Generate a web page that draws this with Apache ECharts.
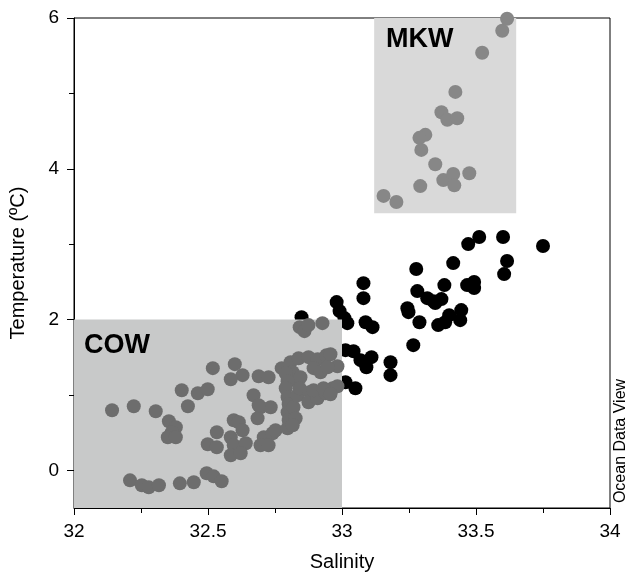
<!DOCTYPE html>
<html>
<head>
<meta charset="utf-8">
<script src="https://cdn.jsdelivr.net/npm/echarts@6/dist/echarts.min.js"></script>
<style>
  html, body { margin: 0; padding: 0; background: #ffffff; }
  #chart { width: 628px; height: 577px; }
</style>
</head>
<body>
<div id="chart"></div>
<script>
// Salinity (x) / potential temperature (y) pairs, per water mass.
// Stations outside the two water-mass boxes.
const otherStations = [
  [33.750, 2.975], [33.512, 3.094], [33.471, 3.001], [33.601, 3.094],
  [33.616, 2.776], [33.605, 2.603], [33.415, 2.749], [33.277, 2.670],
  [33.493, 2.497], [33.467, 2.457], [33.493, 2.417], [33.382, 2.457],
  [33.281, 2.377], [33.318, 2.284], [33.341, 2.244], [33.371, 2.271],
  [33.348, 2.218], [33.244, 2.151], [33.248, 2.098], [33.445, 2.125],
  [33.441, 1.992], [33.400, 2.058], [33.385, 1.965], [33.359, 1.926],
  [33.289, 1.965], [33.266, 1.660], [33.080, 2.483], [33.080, 2.284],
  [32.980, 2.231], [32.991, 2.112], [33.009, 2.019], [33.020, 1.952],
  [32.849, 2.032], [33.043, 1.580], [33.069, 1.461], [33.091, 1.368],
  [33.110, 1.501], [33.181, 1.434], [33.181, 1.262], [33.013, 1.169],
  [33.050, 1.089], [33.088, 1.965], [33.114, 1.899], [33.013, 1.594]
];

// Cold water (COW) samples.
const cowStations = [
  [32.142, 0.797], [32.223, 0.850], [32.305, 0.784], [32.402, 1.062],
  [32.425, 0.850], [32.462, 1.023], [32.499, 1.076], [32.518, 1.355],
  [32.354, 0.651], [32.380, 0.571], [32.365, 0.505], [32.350, 0.438],
  [32.380, 0.438], [32.209, -0.133], [32.253, -0.199], [32.279, -0.226],
  [32.317, -0.199], [32.395, -0.173], [32.447, -0.159], [32.495, -0.040],
  [32.521, -0.080], [32.551, -0.146], [32.600, 1.408], [32.629, 1.262],
  [32.585, 1.208], [32.689, 1.248], [32.726, 1.235], [32.670, 0.996],
  [32.696, 0.837], [32.734, 0.837], [32.685, 0.691], [32.596, 0.664],
  [32.615, 0.637], [32.629, 0.531], [32.533, 0.505], [32.585, 0.438],
  [32.499, 0.345], [32.533, 0.305], [32.596, 0.332], [32.641, 0.359],
  [32.585, 0.199], [32.622, 0.226], [32.708, 0.438], [32.741, 0.491],
  [32.752, 0.531], [32.696, 0.332], [32.726, 0.332], [32.689, 0.863],
  [32.775, 1.355], [32.808, 1.434], [32.838, 1.487], [32.875, 1.501],
  [32.909, 1.474], [32.942, 1.527], [32.957, 1.540], [32.983, 1.381],
  [32.894, 1.355], [32.920, 1.301], [32.946, 1.368], [32.816, 1.301],
  [32.827, 1.195], [32.845, 1.235], [32.790, 1.288], [32.797, 1.182],
  [32.790, 1.089], [32.797, 0.969], [32.801, 0.876], [32.797, 0.770],
  [32.801, 0.664], [32.797, 0.558], [32.819, 0.837], [32.827, 0.691],
  [32.816, 0.598], [32.834, 0.996], [32.842, 1.089], [32.879, 1.036],
  [32.875, 0.903], [32.909, 0.956], [32.939, 1.023], [32.965, 1.089],
  [32.983, 1.116], [32.894, 1.062], [32.931, 1.089], [32.957, 1.009],
  [32.842, 1.899], [32.860, 1.846], [32.927, 1.952], [32.875, 1.926]
];

// Warm water (MKW) samples.
const mkwStations = [
  [33.616, 5.99], [33.598, 5.83], [33.523, 5.54], [33.423, 5.02],
  [33.371, 4.75], [33.393, 4.65], [33.430, 4.67], [33.311, 4.45],
  [33.289, 4.41], [33.296, 4.25], [33.348, 4.06], [33.378, 3.85],
  [33.415, 3.93], [33.419, 3.78], [33.475, 3.94], [33.292, 3.77],
  [33.155, 3.64], [33.203, 3.56]
];

// Water-mass boxes: [salinity min, temperature min, salinity max, temperature max]
const boxCOW = [32.0, -0.5, 33.0, 2.0];
const boxMKW = [33.12, 3.41, 33.65, 6.0];
const waterMassNames = ['COW', 'MKW'];

// Axis ranges and tick values
const salinityRange = [32, 34];
const salinityStep = 0.5;
const tempRange = [-0.5, 6];
const tempMajorTicks = [0, 2, 4, 6];
const tempMinorTicks = [1, 3, 5];

const FONT = 'Liberation Sans, Arial, Helvetica, sans-serif';

const chart = echarts.init(document.getElementById('chart'), null, { renderer: 'canvas' });

function boxRenderer(fill) {
  return function (params, api) {
    const p0 = api.coord([api.value(0), api.value(3)]);
    const p1 = api.coord([api.value(2), api.value(1)]);
    return {
      type: 'rect',
      shape: { x: p0[0], y: p0[1], width: p1[0] - p0[0], height: p1[1] - p0[1] },
      style: { fill: fill }
    };
  };
}

function dots(data, color, z) {
  return {
    type: 'scatter',
    z: z,
    data: data,
    symbol: 'circle', symbolSize: 14,
    itemStyle: { color: color, opacity: 1 },
    emphasis: { disabled: true }
  };
}

const option = {
  backgroundColor: '#ffffff',
  animation: false,
  grid: {
    left: 73, right: 18, top: 18, bottom: 69,
    show: true, borderColor: '#000000', borderWidth: 1, backgroundColor: 'transparent'
  },
  xAxis: {
    type: 'value',
    min: salinityRange[0], max: salinityRange[1], interval: salinityStep,
    name: 'Salinity', nameLocation: 'middle', nameGap: 44,
    nameTextStyle: { fontFamily: FONT, fontSize: 20, color: '#000' },
    axisLine: { show: true, onZero: false, lineStyle: { color: '#000', width: 1 } },
    axisTick: { show: true, length: 7, lineStyle: { color: '#000' } },
    minorTick: { show: true, splitNumber: 2, length: 5, lineStyle: { color: '#000' } },
    axisLabel: {
      fontFamily: FONT, fontSize: 19, color: '#000', margin: 14,
      formatter: v => String(+v.toFixed(2))
    },
    splitLine: { show: false }
  },
  yAxis: [{
    type: 'value',
    min: tempRange[0], max: tempRange[1],
    name: 'Temperature (ºC)', nameLocation: 'middle', nameGap: 46, nameRotate: 90,
    nameTextStyle: { fontFamily: FONT, fontSize: 20, color: '#000' },
    axisLine: { show: true, onZero: false, lineStyle: { color: '#000', width: 1 } },
    axisTick: { show: true, length: 7, customValues: tempMajorTicks, lineStyle: { color: '#000' } },
    axisLabel: { fontFamily: FONT, fontSize: 19, color: '#000', margin: 15, customValues: tempMajorTicks },
    splitLine: { show: false }
  }, {
    type: 'value',
    position: 'left',
    min: tempRange[0], max: tempRange[1],
    axisLine: { show: false },
    axisTick: { show: true, length: 5, customValues: tempMinorTicks, lineStyle: { color: '#000' } },
    axisLabel: { show: false },
    splitLine: { show: false }
  }],
  series: [
    dots(otherStations, '#000000', 2),
    {
      type: 'custom',
      z: 3,
      renderItem: boxRenderer('#c8c9c9'),
      data: [boxCOW],
      encode: { x: [0, 2], y: [1, 3] }
    },
    {
      type: 'custom',
      z: 3,
      renderItem: boxRenderer('#d9d9d9'),
      data: [boxMKW],
      encode: { x: [0, 2], y: [1, 3] }
    },
    dots(cowStations, '#6d6d6d', 4),
    dots(mkwStations, '#878787', 4)
  ],
  graphic: [
    {
      type: 'text', z: 100, x: 84, y: 346,
      style: { text: waterMassNames[0], font: 'bold 27px ' + FONT, fill: '#000', verticalAlign: 'middle' }
    },
    {
      type: 'text', z: 100, x: 386, y: 40,
      style: { text: waterMassNames[1], font: 'bold 27px ' + FONT, fill: '#000', verticalAlign: 'middle' }
    },
    {
      type: 'text', z: 100, x: 621, y: 441, rotation: Math.PI / 2,
      style: { text: 'Ocean Data View', font: '16px ' + FONT, fill: '#000', align: 'center', verticalAlign: 'middle' }
    }
  ]
};

chart.setOption(option);
</script>
</body>
</html>
